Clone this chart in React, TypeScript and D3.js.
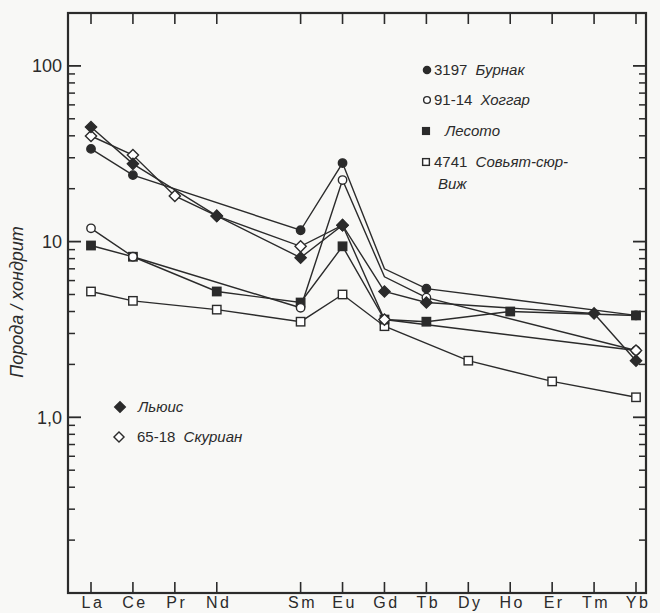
import React from "react";
import * as d3 from "d3";

// Rare-earth elements in chondrite-normalised order (Pm has no data and no tick)
const ELEMENTS = ["La", "Ce", "Pr", "Nd", "Pm", "Sm", "Eu", "Gd", "Tb", "Dy", "Ho", "Er", "Tm", "Yb"];
const UNLABELED = ["Pm"];

const Y_TICKS_MAJOR = [1, 10, 100];
const Y_TICK_LABELS = ["1,0", "10", "100"];

// rock / chondrite ratios, null = not determined
const BURNAK = [33.7, 23.9, null, null, null, 11.6, 28.0, 7.0, 5.4, null, null, null, null, 3.8];
const HOGGAR = [11.9, 8.2, null, null, null, 4.2, 22.4, 6.3, 4.8, null, null, null, null, 2.4];
const LESOTO = [9.5, 8.2, null, 5.2, null, 4.5, 9.4, 3.6, 3.5, null, 4.0, null, null, 3.8];
const SOVIAT = [5.2, 4.6, null, 4.1, null, 3.5, 5.0, 3.3, null, 2.1, null, 1.6, null, 1.3];
const LEWIS = [44.9, 27.7, null, 14.0, null, 8.1, 12.4, 5.2, 4.5, null, null, null, 3.9, 2.1];
const SCOURIE = [39.9, 31.1, 18.2, 14.0, null, 9.4, 12.4, 3.6, null, null, null, null, null, 2.4];

// vertices of a pattern that carry no symbol (series name : element)
const BARE_POINTS = ["Бурнак:Gd", "Хоггар:Gd"];

type Sym = "circle" | "square" | "diamond";
type Series = { name: string; values: (number | null)[]; sym: Sym; filled: boolean };

const SERIES: Series[] = [
  { name: "Совьят-сюр-Виж", values: SOVIAT, sym: "square", filled: false },
  { name: "Лесото", values: LESOTO, sym: "square", filled: true },
  { name: "Хоггар", values: HOGGAR, sym: "circle", filled: false },
  { name: "Скуриан", values: SCOURIE, sym: "diamond", filled: false },
  { name: "Льюис", values: LEWIS, sym: "diamond", filled: true },
  { name: "Бурнак", values: BURNAK, sym: "circle", filled: true },
];

const INK = "#2b2b2b";
const BG = "#f8f8f6";

const W = 660;
const H = 613;
const LEFT = 68;
const RIGHT = 646;
const TOP = 13;
const BOTTOM = 593;

const x = d3.scalePoint<string>().domain(ELEMENTS).range([91, 636]);
const y = d3.scaleLog().domain([0.1, 200]).range([BOTTOM, TOP]);

function Marker({
  sym,
  filled,
  cx,
  cy,
  size = 1,
}: {
  sym: Sym;
  filled: boolean;
  cx: number;
  cy: number;
  size?: number;
}) {
  const fill = filled ? INK : "#ffffff";
  const common = { fill, stroke: INK, strokeWidth: 1.4 };
  if (sym === "circle") return <circle cx={cx} cy={cy} r={4.2 * size} {...common} />;
  if (sym === "square") {
    const h = 4.2 * size;
    return <rect x={cx - h} y={cy - h} width={2 * h} height={2 * h} {...common} />;
  }
  const r = 5.6 * size;
  return <path d={`M${cx},${cy - r}L${cx + r},${cy}L${cx},${cy + r}L${cx - r},${cy}Z`} {...common} />;
}

export default function App() {
  const minor: number[] = [];
  for (const dec of [0.1, 1, 10]) for (let k = 2; k <= 9; k++) minor.push(dec * k);

  const line = d3
    .line<[string, number]>()
    .x((d) => x(d[0]) as number)
    .y((d) => y(d[1]));

  const tickEls = ELEMENTS.filter((e) => !UNLABELED.includes(e));
  const font = "'Liberation Sans', Arial, sans-serif";

  return (
    <svg
      width={W}
      height={H}
      style={{ position: "absolute", left: 0, top: 0, background: BG }}
      fontFamily={font}
    >
      <rect x={0} y={0} width={W} height={H} fill={BG} />

      {/* frame */}
      <rect x={LEFT} y={TOP} width={RIGHT - LEFT} height={BOTTOM - TOP} fill="none" stroke={INK} strokeWidth={2.2} />

      {/* y ticks on both sides */}
      {Y_TICKS_MAJOR.map((v) => (
        <g key={"M" + v}>
          <line x1={LEFT} x2={LEFT + 13} y1={y(v)} y2={y(v)} stroke={INK} strokeWidth={1.8} />
          <line x1={RIGHT} x2={RIGHT - 13} y1={y(v)} y2={y(v)} stroke={INK} strokeWidth={1.8} />
        </g>
      ))}
      {minor.map((v) => (
        <g key={"m" + v}>
          <line x1={LEFT} x2={LEFT + 7} y1={y(v)} y2={y(v)} stroke={INK} strokeWidth={1.5} />
          <line x1={RIGHT} x2={RIGHT - 7} y1={y(v)} y2={y(v)} stroke={INK} strokeWidth={1.5} />
        </g>
      ))}
      {Y_TICKS_MAJOR.map((v, i) => (
        <text key={"l" + v} x={62} y={y(v)} dy="0.36em" textAnchor="end" fontSize={18} fill={INK}>
          {Y_TICK_LABELS[i]}
        </text>
      ))}

      {/* x ticks on top and bottom */}
      {tickEls.map((e) => (
        <g key={e}>
          <line x1={x(e)} x2={x(e)} y1={TOP} y2={TOP + 11} stroke={INK} strokeWidth={1.6} />
          <line x1={x(e)} x2={x(e)} y1={BOTTOM} y2={BOTTOM - 11} stroke={INK} strokeWidth={1.6} />
          <text x={(x(e) as number) + 2} y={608} textAnchor="middle" fontSize={16} letterSpacing={2.5} fill={INK}>
            {e}
          </text>
        </g>
      ))}

      {/* y axis title */}
      <text
        transform="translate(23,302) rotate(-90)"
        textAnchor="middle"
        fontSize={18}
        fontStyle="italic"
        fill={INK}
      >
        Порода / хондрит
      </text>

      {/* REE patterns */}
      {SERIES.map((s, i) => {
        const pts = ELEMENTS.map((e, j) => [e, s.values[j]] as [string, number | null]).filter(
          (d) => d[1] !== null
        ) as [string, number][];
        return <path key={i} d={line(pts) ?? ""} fill="none" stroke={INK} strokeWidth={1.4} />;
      })}
      {SERIES.map((s, i) => (
        <g key={"p" + i}>
          {ELEMENTS.map((e, j) =>
            s.values[j] === null || BARE_POINTS.includes(`${s.name}:${e}`) ? null : (
              <Marker key={e} sym={s.sym} filled={s.filled} cx={x(e) as number} cy={y(s.values[j] as number)} />
            )
          )}
        </g>
      ))}

      {/* legend, upper right */}
      <g fill={INK} fontSize={15}>
        <Marker sym="circle" filled={true} cx={427} cy={70} size={0.85} />
        <text x={434} y={70} dy="0.36em">
          3197 <tspan fontStyle="italic" dx={4}>Бурнак</tspan>
        </text>
        <Marker sym="circle" filled={false} cx={427} cy={100} size={0.8} />
        <text x={434} y={100} dy="0.36em">
          91-14 <tspan fontStyle="italic" dx={4}>Хоггар</tspan>
        </text>
        <Marker sym="square" filled={true} cx={426} cy={131} size={0.8} />
        <text x={445} y={131} dy="0.36em" fontStyle="italic">
          Лесото
        </text>
        <Marker sym="square" filled={false} cx={426} cy={162} size={0.8} />
        <text x={434} y={162} dy="0.36em">
          4741 <tspan fontStyle="italic" dx={4}>Совьят-сюр-</tspan>
        </text>
        <text x={438} y={184} dy="0.36em" fontStyle="italic">
          Виж
        </text>
      </g>

      {/* legend, lower left */}
      <g fill={INK} fontSize={15}>
        <Marker sym="diamond" filled={true} cx={120} cy={407} size={0.95} />
        <text x={138} y={407} dy="0.36em" fontStyle="italic">
          Льюис
        </text>
        <Marker sym="diamond" filled={false} cx={119} cy={437} size={0.9} />
        <text x={137} y={437} dy="0.36em">
          65-18 <tspan fontStyle="italic" dx={4}>Скуриан</tspan>
        </text>
      </g>
    </svg>
  );
}
